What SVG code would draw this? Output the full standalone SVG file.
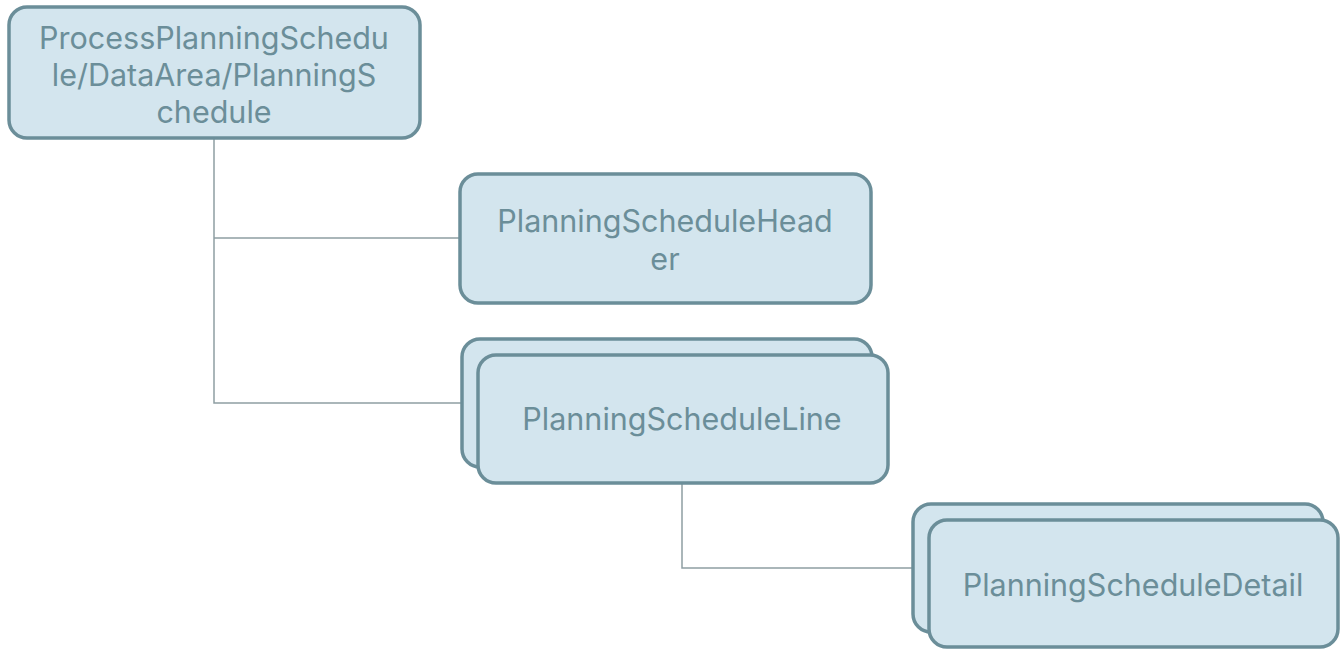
<svg xmlns="http://www.w3.org/2000/svg" width="1340" height="649" viewBox="0 0 1340 649">
<style>
.box{fill:#d3e5ee;stroke:#6b8e99;stroke-width:3.5}
.t{font-family:Inter,"Noto Sans",sans-serif;font-size:30.5px;fill:#6b8e99;text-anchor:middle}
.c{fill:none;stroke:#8e9ea3;stroke-width:1.5}
</style>
<rect width="1340" height="649" fill="#ffffff"/>
<g id="connectors">
<path class="c" d="M214 138V403H462M214 238H460"/>
<path class="c" d="M682 484V568H913"/>
</g>
<g id="root">
<rect class="box" x="9" y="7" width="411" height="131" rx="18"/>
<text class="t"><tspan x="214" y="49">ProcessPlanningSchedu</tspan><tspan x="214" y="86">le/DataArea/PlanningS</tspan><tspan x="214" y="123">chedule</tspan></text>
</g>
<g id="header">
<rect class="box" x="460" y="174" width="411" height="129" rx="18"/>
<text class="t"><tspan x="665" y="232">PlanningScheduleHead</tspan><tspan x="665" y="270">er</tspan></text>
</g>
<g id="line">
<rect class="box" x="462" y="339" width="410" height="128" rx="18"/>
<rect class="box" x="478" y="355" width="410" height="128" rx="18"/>
<text class="t" x="682" y="430">PlanningScheduleLine</text>
</g>
<g id="detail">
<rect class="box" x="913" y="504" width="410" height="128" rx="18"/>
<rect class="box" x="929" y="520" width="409" height="127" rx="18"/>
<text class="t" x="1133" y="596">PlanningScheduleDetail</text>
</g>
</svg>
